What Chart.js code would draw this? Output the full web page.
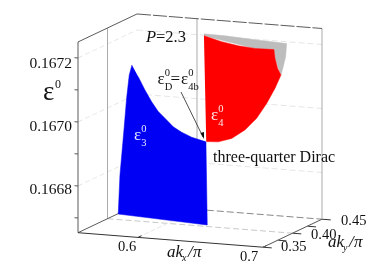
<!DOCTYPE html>
<html>
<head>
<meta charset="utf-8">
<style>
  html, body { margin: 0; padding: 0; background: #fff; }
  canvas { display: block; }
</style>
<script src="https://cdn.jsdelivr.net/npm/chart.js@4"></script>
</head>
<body>
<canvas id="grafico" width="382" height="267"></canvas>
<script>
// axis ranges and ticks
const kxRange = [0.552, 0.7];
const kyRange = [0.35, 0.45];
const energyRange = [0.166654, 0.16725];
const kxTicks = [0.6, 0.7];
const kyTicks = [0.35, 0.375, 0.40, 0.425, 0.45];
const kyGrid = [0.40];
const energyTicks = [0.1672, 0.1671, 0.1670, 0.1669, 0.1668, 0.1667];
const energyGrid = [0.1672, 0.1670, 0.1668];

// band outlines (all on the same ky slice)
const surfaceKy = 0.411;
const band3Kx = [0.56636, 0.5642, 0.56212, 0.55996, 0.55676, 0.5554, 0.6266, 0.62556, 0.61412, 0.60612, 0.5994, 0.59276, 0.5874, 0.58212, 0.57676, 0.5714];
const band3E = [0.167129, 0.167097, 0.167025, 0.166924, 0.166782, 0.16666, 0.1666475, 0.166907, 0.166918, 0.166931, 0.166946, 0.166971, 0.16699, 0.167019, 0.167054, 0.167094];
const band4Kx = [0.62396, 0.63812, 0.6514, 0.66476, 0.67996, 0.68076, 0.68292, 0.68556, 0.68076, 0.67412, 0.66612, 0.65676, 0.64612, 0.6354, 0.6258];
const band4E = [0.167238, 0.167224, 0.167215, 0.167211, 0.167212, 0.167185, 0.167154, 0.167134, 0.167091, 0.167042, 0.166993, 0.166954, 0.166924, 0.16691, 0.166908];
const backKx = [0.62396, 0.64076, 0.66476, 0.69012, 0.68932, 0.6874, 0.68556, 0.68076, 0.67996, 0.66476, 0.62396];
const backE = [0.167244, 0.167243, 0.167238, 0.167234, 0.167193, 0.167161, 0.167134, 0.167185, 0.167212, 0.167211, 0.167238];

// oblique projection of (kx, ky, energy) onto the picture
const proj = (kx, ky, e) => {
  const u = (kx - kxRange[0]) / 0.0008;
  const v = (ky - kyRange[0]) / (kyRange[1] - kyRange[0]);
  return {
    x: 78 + u + 59 * v,
    y: 232.7 + 0.0784 * u - 28 * v - (e - energyRange[0]) / 3.125e-6
  };
};

const [x0, x1] = kxRange;
const [y0, y1] = kyRange;
const [e0, e1] = energyRange;

const seg = (pts, color, dash) => ({
  data: pts.map(p => proj(p[0], p[1], p[2])),
  showLine: true,
  borderColor: color,
  borderWidth: 1,
  borderDash: dash || [],
  pointRadius: 0,
  tension: 0,
  fill: false
});

const patch = (kx, e, color) => ({
  data: kx.map((k, i) => proj(k, surfaceKy, e[i])),
  showLine: true,
  backgroundColor: color,
  borderColor: color,
  borderWidth: 0.5,
  pointRadius: 0,
  tension: 0,
  fill: 'shape'
});

const dark = '#5a5a5a';
const light = '#ababab';
const grid = '#e6e6e6';

// first dataset ends up on top
const datasets = [
  patch(band3Kx, band3E, '#0000f5'),
  patch(band4Kx, band4E, '#ff0000'),
  patch(backKx, backE, '#bdbdbd'),
  seg([[x0, y0, e0], [x1, y0, e0]], '#333'),
  seg([[x1, y0, e0], [x1, y1, e0]], dark),
  seg([[x0, y0, e0], [x0, y1, e0]], dark),
  seg([[x0, y1, e0], [x1, y1, e0]], '#888', [7, 3]),
  seg([[x0, y0, e0], [x0, y0, e1]], dark),
  seg([[x0, y0, e1], [x0, y1, e1]], dark),
  seg([[x0, y1, e1], [x1, y1, e1]], dark, [14, 2]),
  seg([[x1, y1, e0], [x1, y1, e1]], light),
  seg([[x0, 0.40, e0], [x0, 0.40, e1]], light),
  seg([[0.6, y1, e0], [0.6, y1, e1]], light)
];

kxTicks.forEach(k => {
  datasets.push(seg([[k, y0, e0], [k, y0 + 0.006, e0]], '#333'));
  datasets.push(seg([[k, y0, e0], [k, y1, e0]], grid, [5, 2]));
});
kyTicks.forEach(k => {
  datasets.push(seg([[x1, k, e0], [x1 + 0.007, k, e0]], '#333'));
});
kyGrid.forEach(k => {
  datasets.push(seg([[x0, k, e0], [x1, k, e0]], '#c8c8c8', [6, 3]));
});
energyTicks.forEach(e => {
  datasets.push(seg([[x0, y0, e], [x0 - 0.0028, y0, e]], dark));
});
energyGrid.forEach(e => {
  datasets.push(seg([[x0, y0, e], [x0, y1, e]], grid, [5, 3]));
  datasets.push(seg([[x0, y1, e], [x1, y1, e]], grid, [6, 3]));
});

const serif = 'Liberation Serif';

const txt = (c, s, x, y, size, opts) => {
  const o = opts || {};
  c.font = `${o.italic ? 'italic ' : ''}${size}px "${serif}"`;
  c.fillStyle = o.color || '#111';
  c.textAlign = o.align || 'left';
  c.textBaseline = 'alphabetic';
  c.fillText(s, x, y);
};

// epsilon with a superscript 0 and optional subscript
const eps = (c, x, y, size, sub, color) => {
  const o = { color };
  txt(c, 'ε', x, y, size, o);
  const w = size * 0.43;
  txt(c, '0', x + w, y - size * 0.5, size * 0.62, o);
  if (sub) txt(c, sub, x + w, y + size * 0.38, size * 0.62, o);
};

const labelsPlugin = {
  id: 'labels',
  afterDatasetsDraw(chart) {
    const c = chart.ctx;
    c.save();

    txt(c, '0.1672', 72, 68, 15.5, { align: 'right' });
    txt(c, '0.1670', 72, 131, 15.5, { align: 'right' });
    txt(c, '0.1668', 72, 194, 15.5, { align: 'right' });

    txt(c, 'ε', 43, 100, 27);
    txt(c, '0', 55, 87.5, 12);

    txt(c, 'P', 146, 42, 16.5, { italic: true });
    txt(c, '=2.3', 156, 42, 16.5);

    // arrow to the touching point
    c.strokeStyle = '#222';
    c.lineWidth = 0.8;
    c.beginPath();
    c.moveTo(181, 92);
    c.lineTo(203, 137);
    c.stroke();
    c.fillStyle = '#111';
    c.beginPath();
    c.moveTo(204, 139);
    c.lineTo(200.5, 133);
    c.lineTo(204, 132);
    c.closePath();
    c.fill();

    eps(c, 157.5, 84, 17, 'D');
    txt(c, '=', 170.5, 84, 17);
    eps(c, 181, 84, 17, '4b');

    eps(c, 134, 140, 17, '3', '#e8e8ff');
    eps(c, 211, 120, 17, '4', '#ffe8e8');

    txt(c, 'three-quarter Dirac', 213, 162, 16);

    txt(c, '0.6', 118, 251, 14.5);
    txt(c, '0.7', 240, 261, 14.5);
    txt(c, '0.35', 281, 251, 14.5);
    txt(c, '0.40', 311, 239, 14.5);
    txt(c, '0.45', 341, 225, 14.5);

    txt(c, 'ak', 167, 257, 17, { italic: true });
    txt(c, 'x', 182, 261, 10, { italic: true });
    txt(c, '/', 188, 257, 17, { italic: true });
    txt(c, 'π', 193, 257, 17, { italic: true });

    txt(c, 'ak', 328, 247, 17, { italic: true });
    txt(c, 'y', 343, 251, 10, { italic: true });
    txt(c, '/', 349, 247, 17, { italic: true });
    txt(c, 'π', 354, 247, 17, { italic: true });

    c.restore();
  }
};

new Chart(document.getElementById('grafico').getContext('2d'), {
  type: 'scatter',
  data: { datasets },
  options: {
    responsive: false,
    animation: false,
    events: [],
    layout: { padding: 0 },
    plugins: {
      legend: { display: false },
      tooltip: { enabled: false }
    },
    scales: {
      x: { type: 'linear', display: false, min: 0, max: 382 },
      y: { type: 'linear', display: false, min: 0, max: 267, reverse: true }
    }
  },
  plugins: [labelsPlugin]
});
</script>
</body>
</html>
